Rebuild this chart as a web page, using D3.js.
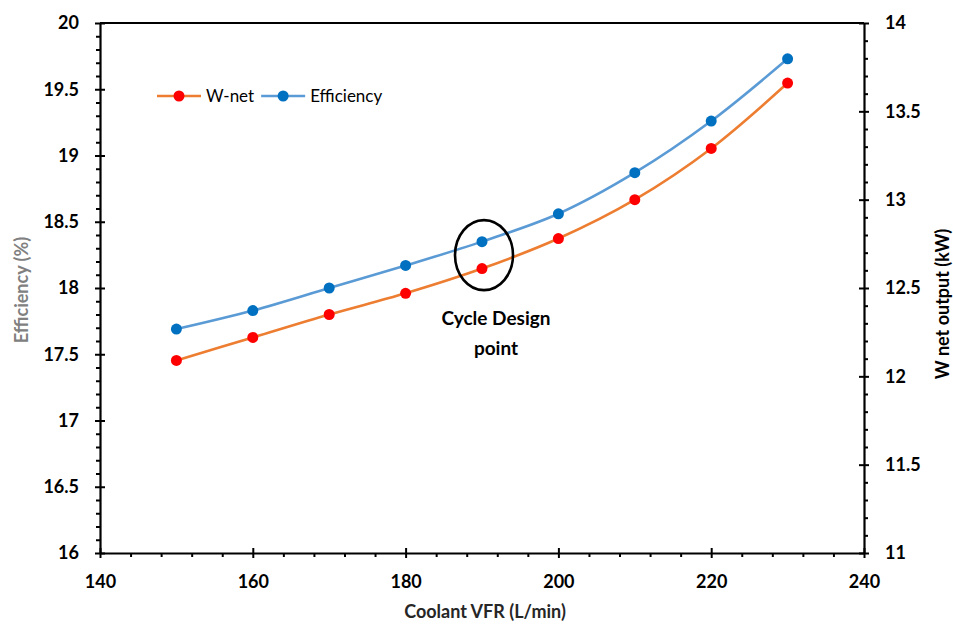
<!DOCTYPE html>
<html>
<head>
<meta charset="utf-8">
<script src="https://cdn.jsdelivr.net/npm/d3@7"></script>
<style>
  html, body { margin: 0; padding: 0; background: #fff; }
  svg { display: block; font-family: Lato, "Open Sans", sans-serif; }
</style>
</head>
<body>
<svg id="chart" width="953" height="624"></svg>
<script>
// Coolant volumetric flow rate (L/min)
const flowRates = [150, 160, 170, 180, 190, 200, 210, 220, 230];
// Cycle thermal efficiency (%), left axis
const efficiency = [17.69, 17.83, 18.0, 18.17, 18.35, 18.56, 18.87, 19.26, 19.73];
// Net power output (kW), right axis
const wNet = [12.09, 12.22, 12.35, 12.47, 12.61, 12.78, 13.0, 13.29, 13.66];

const xTicks = [140, 160, 180, 200, 220, 240];
const yLeftTicks = [16, 16.5, 17, 17.5, 18, 18.5, 19, 19.5, 20];
const yRightTicks = [11, 11.5, 12, 12.5, 13, 13.5, 14];

const designFlow = 190;

const svg = d3.select("#chart");
const m = { left: 100, right: 864, top: 23, bottom: 553 };

const x = d3.scaleLinear().domain([140, 240]).range([m.left, m.right]);
const yL = d3.scaleLinear().domain([16, 20]).range([m.bottom, m.top]);
const yR = d3.scaleLinear().domain([11, 14]).range([m.bottom, m.top]);

const axisColor = "#000";
const tickFont = 18;

// Plot frame: top edge
svg.append("line")
  .attr("x1", m.left).attr("x2", m.right)
  .attr("y1", m.top).attr("y2", m.top)
  .attr("stroke", axisColor).attr("stroke-width", 2.2);

// Minor tick positions
const isHalf = v => Math.abs(v * 2 - Math.round(v * 2)) < 1e-6;
const minorX = d3.range(140, 240.01, 4).filter(v => v % 20 !== 0);
const minorL = d3.range(16, 20.001, 0.1).map(v => +v.toFixed(1)).filter(v => !isHalf(v));
const minorR = d3.range(11, 14.001, 0.1).map(v => +v.toFixed(1)).filter(v => !isHalf(v));

function styleAxis(g) {
  g.select(".domain").attr("stroke", axisColor).attr("stroke-width", 2.2);
  g.selectAll(".tick line").attr("stroke", axisColor).attr("stroke-width", 2);
}
function styleLabels(g) {
  g.selectAll(".tick text")
    .attr("font-size", tickFont).attr("font-weight", 700).attr("fill", "#000")
    .attr("font-family", "Lato, sans-serif");
}

// Bottom axis
svg.append("g").attr("transform", `translate(0,${m.bottom})`)
  .call(d3.axisBottom(x).tickValues(minorX).tickSize(4).tickFormat("").tickSizeOuter(0))
  .call(styleAxis)
  .call(g => g.select(".domain").remove());
const gx = svg.append("g").attr("transform", `translate(0,${m.bottom})`)
  .call(d3.axisBottom(x).tickValues(xTicks).tickSize(5).tickSizeOuter(0).tickPadding(17).tickFormat(d3.format("d")))
  .call(styleAxis).call(styleLabels);
gx.selectAll(".tick line").attr("y1", -5);

// Left axis
svg.append("g").attr("transform", `translate(${m.left},0)`)
  .call(d3.axisLeft(yL).tickValues(minorL).tickSize(4).tickFormat("").tickSizeOuter(0))
  .call(styleAxis)
  .call(g => g.select(".domain").remove());
const gl = svg.append("g").attr("transform", `translate(${m.left},0)`)
  .call(d3.axisLeft(yL).tickValues(yLeftTicks).tickSize(5).tickSizeOuter(0).tickPadding(16).tickFormat(d => String(d)))
  .call(styleAxis).call(styleLabels);
gl.selectAll(".tick line").attr("x1", 5);

// Right axis
svg.append("g").attr("transform", `translate(${m.right},0)`)
  .call(d3.axisRight(yR).tickValues(minorR).tickSize(4).tickFormat("").tickSizeOuter(0))
  .call(styleAxis)
  .call(g => g.select(".domain").remove());
const gr = svg.append("g").attr("transform", `translate(${m.right},0)`)
  .call(d3.axisRight(yR).tickValues(yRightTicks).tickSize(5).tickSizeOuter(0).tickPadding(16).tickFormat(d => String(d)))
  .call(styleAxis).call(styleLabels);
gr.selectAll(".tick line").attr("x1", -5);

// Axis titles
svg.append("text")
  .attr("transform", `translate(${28},${290}) rotate(-90)`)
  .attr("text-anchor", "middle")
  .attr("font-size", 18).attr("font-weight", 700).attr("fill", "#808080")
  .text("Efficiency (%)");
svg.append("text")
  .attr("transform", `translate(${949},${304}) rotate(-90)`)
  .attr("text-anchor", "middle")
  .attr("font-size", 18).attr("font-weight", 700).attr("fill", "#000")
  .text("W net output (kW)");
svg.append("text")
  .attr("x", (m.left + m.right) / 2 + 3).attr("y", 618)
  .attr("text-anchor", "middle")
  .attr("font-size", 18).attr("font-weight", 700).attr("fill", "#262626")
  .text("Coolant VFR (L/min)");

// Series
const series = [
  { name: "W-net", values: wNet, y: yR, line: "#ED7D31", dot: "#FF0000" },
  { name: "Efficiency", values: efficiency, y: yL, line: "#5B9BD5", dot: "#0070C0" }
];

series.forEach(s => {
  const pts = flowRates.map((f, i) => [f, s.values[i]]);
  const line = d3.line()
    .x(d => x(d[0])).y(d => s.y(d[1]))
    .curve(d3.curveCatmullRom.alpha(0.5));
  svg.append("path").datum(pts)
    .attr("d", line)
    .attr("fill", "none")
    .attr("stroke", s.line)
    .attr("stroke-width", 2.6);
  svg.append("g").selectAll("circle").data(pts).join("circle")
    .attr("cx", d => x(d[0])).attr("cy", d => s.y(d[1]))
    .attr("r", 5.5)
    .attr("fill", s.dot);
});

// Design point highlight
const di = flowRates.indexOf(designFlow);
const cyMid = (yL(efficiency[di]) + yR(wNet[di])) / 2;
svg.append("ellipse")
  .attr("cx", x(designFlow) + 2).attr("cy", cyMid)
  .attr("rx", 29).attr("ry", 35)
  .attr("fill", "none").attr("stroke", "#000").attr("stroke-width", 2.6);
const note = svg.append("text")
  .attr("text-anchor", "middle")
  .attr("font-size", 19).attr("font-weight", 700).attr("fill", "#000");
note.append("tspan").attr("x", x(designFlow) + 14).attr("y", 325).text("Cycle Design");
note.append("tspan").attr("x", x(designFlow) + 14).attr("y", 355).text("point");

// Legend
const legend = svg.append("g").attr("transform", "translate(157,96)");
let lx = 0;
series.forEach(s => {
  const g = legend.append("g").attr("transform", `translate(${lx},0)`);
  g.append("line").attr("x1", 0).attr("x2", 44).attr("y1", 0).attr("y2", 0)
    .attr("stroke", s.line).attr("stroke-width", 2.6);
  g.append("circle").attr("cx", 22).attr("cy", 0).attr("r", 5.5).attr("fill", s.dot);
  const t = g.append("text").attr("x", 49).attr("y", 6)
    .attr("font-size", 17).attr("fill", "#000").text(s.name);
  lx += 49 + t.node().getComputedTextLength() + 7;
});
</script>
</body>
</html>
